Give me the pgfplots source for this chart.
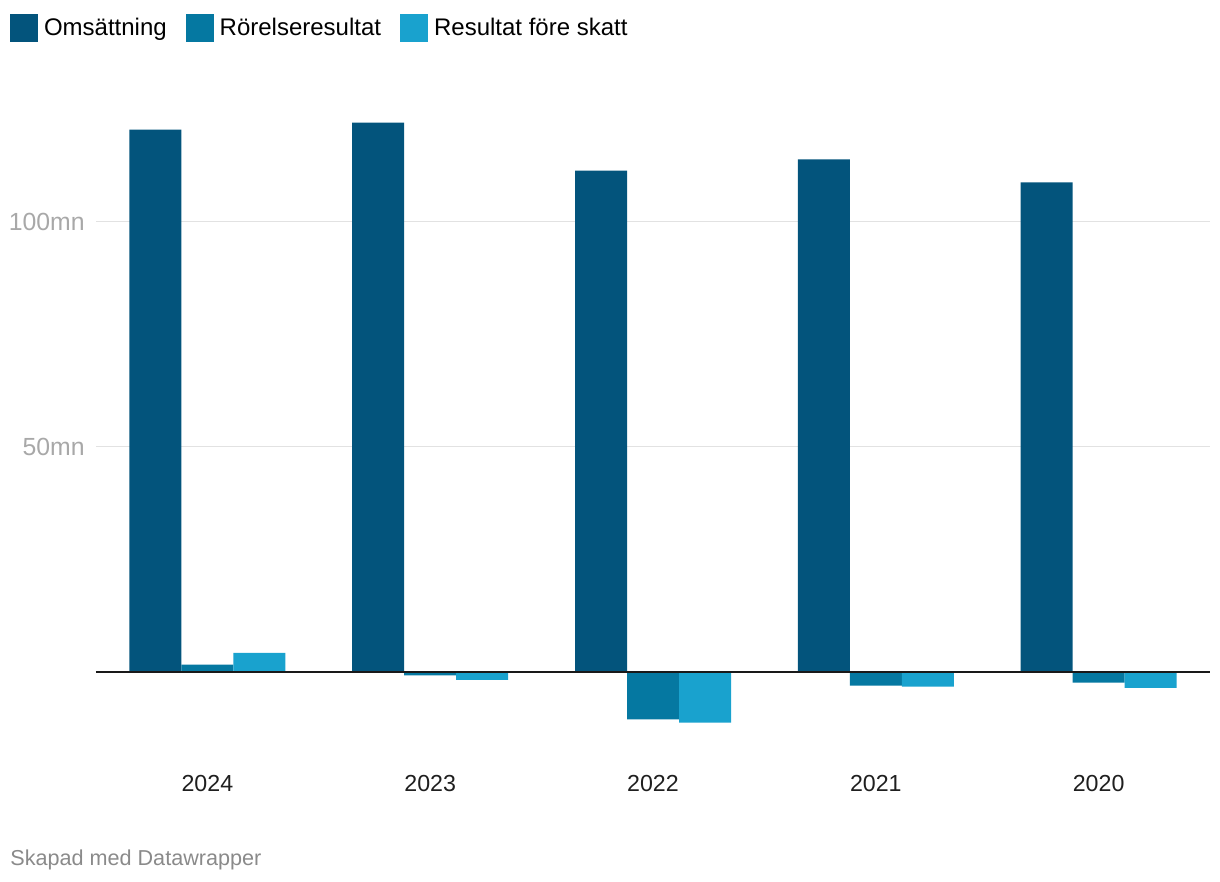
\documentclass[border=0pt]{standalone}
\usepackage{pgfplots}
\pgfplotsset{compat=1.18}
\usepackage{fontspec}
\setmainfont{Liberation Sans}
\definecolor{cA}{HTML}{03547C}
\definecolor{cB}{HTML}{0578A1}
\definecolor{cC}{HTML}{19A2CE}
\definecolor{gridc}{HTML}{E2E2E2}
\definecolor{ytc}{HTML}{A8A8A8}
\definecolor{footc}{HTML}{8A8A8A}
\begin{document}
\begin{tikzpicture}
\path[use as bounding box] (0,0) rectangle (610pt,441pt);
\begin{axis}[
  at={(48pt,61pt)}, anchor=south west,
  scale only axis, width=557pt, height=330pt,
  xmin=-0.5, xmax=4.5, ymin=-19.6, ymax=127,
  axis line style={draw=none},
  ybar=0pt, bar width=26pt,
  xtick={0,1,2,3,4},
  xticklabels={2024,2023,2022,2021,2020},
  ytick={50,100}, yticklabels={50mn,100mn},
  major tick length=0pt,
  xtick style={draw=none}, ytick style={draw=none},
  ymajorgrids, grid style={gridc, line width=0.6pt},
  xticklabel style={font=\fontsize{11.6}{13}\selectfont, text=black!88, anchor=north, inner sep=0pt, yshift=-7.5pt},
  yticklabel style={font=\fontsize{12.4}{14}\selectfont, text=ytc, anchor=east, inner sep=0pt, xshift=-5.5pt},
  xticklabel pos=lower,
  legend style={draw=none, at={(-0.0772,1.1303)}, anchor=north west,
    legend columns=-1, inner sep=0pt, outer sep=0pt,
    font=\fontsize{12}{14}\selectfont,
    /tikz/every even column/.append style={column sep=6.5pt},
    nodes={inner xsep=3pt, inner ysep=1pt}},
  legend cell align=left,
]
\addplot[fill=cA, draw=none, legend image code/.code={\fill[cA] (0pt,-7pt) rectangle (14pt,7pt);}] coordinates {(0,120.4) (1,122.0) (2,111.3) (3,113.8) (4,108.7)};
\addplot[fill=cB, draw=none, legend image code/.code={\fill[cB] (0pt,-7pt) rectangle (14pt,7pt);}] coordinates {(0,1.6) (1,-0.8) (2,-10.6) (3,-3.1) (4,-2.4)};
\addplot[fill=cC, draw=none, legend image code/.code={\fill[cC] (0pt,-7pt) rectangle (14pt,7pt);}] coordinates {(0,4.2) (1,-1.8) (2,-11.3) (3,-3.3) (4,-3.6)};
\legend{Omsättning, Rörelseresultat, Resultat före skatt}
\draw[black!90, line width=0.9pt] (axis cs:-0.5,0) -- (axis cs:4.5,0);
\end{axis}
\node[anchor=base west, inner sep=0pt, text=footc, font=\fontsize{10.8}{13}\selectfont] at (5pt,8pt) {Skapad med Datawrapper};
\end{tikzpicture}
\end{document}
